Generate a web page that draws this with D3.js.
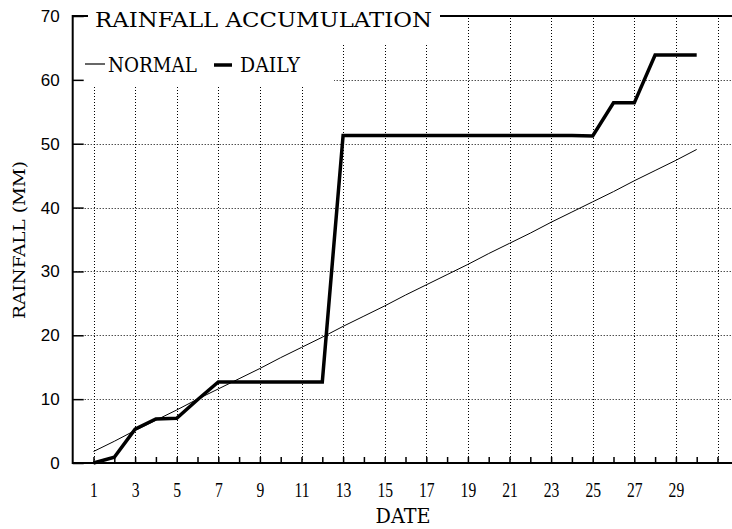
<!DOCTYPE html>
<html><head><meta charset="utf-8">
<script src="https://cdn.jsdelivr.net/npm/d3@7"></script>
<style>body{margin:0;background:#fff}svg{display:block}</style>
</head><body>
<svg id="c" width="732" height="529"></svg>
<script>
const days = [1,2,3,4,5,6,7,8,9,10,11,12,13,14,15,16,17,18,19,20,21,22,23,24,25,26,27,28,29,30];
const normalValues = [1.8,3.4,5.1,6.7,8.3,10.0,11.6,13.2,14.8,16.5,18.1,19.7,21.4,23.0,24.6,26.3,27.9,29.5,31.1,32.8,34.4,36.0,37.7,39.3,40.9,42.5,44.2,45.8,47.4,49.1];
const dailyValues = [0,0.9,5.3,6.9,7.0,9.9,12.7,12.7,12.7,12.7,12.7,12.7,51.3,51.3,51.3,51.3,51.3,51.3,51.3,51.3,51.3,51.3,51.3,51.3,51.2,56.4,56.4,63.9,63.9,63.9];
const yTickValues = [0,10,20,30,40,50,60,70];
const xTickDays = [1,2,3,4,5,6,7,8,9,10,11,12,13,14,15,16,17,18,19,20,21,22,23,24,25,26,27,28,29,30,31];
const xLabelDays = [1,3,5,7,9,11,13,15,17,19,21,23,25,27,29];
const gridDays = [1,3,5,7,9,11,13,15,17,19,21,23,25,27,29,31];
const gridValues = [10,20,30,40,50,60];
const titleText = "RAINFALL ACCUMULATION";
const legendNames = ["NORMAL","DAILY"];

const svg = d3.select("#c");
const x = d3.scaleLinear().domain([0,32]).range([72.7,738.3]);
const y = d3.scaleLinear().domain([0,70]).range([463,16]);
const serif = "'DejaVu Serif', serif";

// grid
const g = svg.append("g");
g.selectAll("line.v").data(gridDays).join("line")
  .attr("x1",d=>Math.round(x(d))+0.5).attr("x2",d=>Math.round(x(d))+0.5)
  .attr("y1",y(0)).attr("y2",y(70))
  .attr("stroke","#000").attr("stroke-width",1).attr("stroke-dasharray","1,2");
g.selectAll("line.h").data(gridValues).join("line")
  .attr("x1",x(0)).attr("x2",732)
  .attr("y1",d=>Math.round(y(d))+0.5).attr("y2",d=>Math.round(y(d))+0.5)
  .attr("stroke","#000").attr("stroke-width",1).attr("stroke-dasharray","1,2");

// frame top line
svg.append("line").attr("x1",x(0)).attr("x2",732).attr("y1",y(70)).attr("y2",y(70))
  .attr("stroke","#000").attr("stroke-width",2);

// masks for title and legend
svg.append("rect").attr("x",88).attr("y",0).attr("width",352).attr("height",44).attr("fill","#fff");
svg.append("rect").attr("x",75).attr("y",44).attr("width",259).attr("height",43).attr("fill","#fff");

// title
svg.append("text").attr("x",95).attr("y",27).text(titleText)
  .attr("font-family",serif).attr("font-size",20)
  .attr("textLength",337).attr("lengthAdjust","spacingAndGlyphs");

// legend
const lg = svg.append("g");
lg.append("line").attr("x1",85).attr("x2",105).attr("y1",64).attr("y2",64).attr("stroke","#000").attr("stroke-width",1.2);
lg.append("text").attr("x",108).attr("y",72).text(legendNames[0])
  .attr("font-family",serif).attr("font-size",20).attr("textLength",89).attr("lengthAdjust","spacingAndGlyphs");
lg.append("line").attr("x1",214).attr("x2",232).attr("y1",65).attr("y2",65).attr("stroke","#000").attr("stroke-width",3.5);
lg.append("text").attr("x",240).attr("y",72).text(legendNames[1])
  .attr("font-family",serif).attr("font-size",20).attr("textLength",60).attr("lengthAdjust","spacingAndGlyphs");

// y axis
const ya = svg.append("g").attr("transform",`translate(${x(0)},0)`)
  .call(d3.axisLeft(y).tickValues(yTickValues).tickSize(-11).tickPadding(13).tickFormat(d3.format("d")));
ya.select(".domain").remove();
ya.selectAll(".tick line").attr("stroke","#000").attr("stroke-width",1.5);
ya.selectAll(".tick text").attr("font-family","'Liberation Sans', Arial, sans-serif").attr("font-size",17).attr("fill","#000");

// x axis
const xa = svg.append("g").attr("transform",`translate(0,${y(0)})`)
  .call(d3.axisBottom(x).tickValues(xTickDays).tickSize(-6).tickFormat(d=>xLabelDays.includes(d)?d:""));
xa.select(".domain").remove();
xa.selectAll(".tick line").attr("stroke","#000").attr("stroke-width",1.5);
xa.selectAll(".tick text").attr("font-family","'Liberation Serif', serif").attr("font-size",20).attr("fill","#000")
  .attr("y",34).attr("dy",0).attr("transform","scale(0.78,1)");

// axis lines
svg.append("line").attr("x1",x(0)).attr("x2",x(0)).attr("y1",y(70)-1).attr("y2",y(0)+1).attr("stroke","#000").attr("stroke-width",2);
svg.append("line").attr("x1",x(0)).attr("x2",732).attr("y1",y(0)).attr("y2",y(0)).attr("stroke","#000").attr("stroke-width",2);

// lines
const lineGen = d3.line().x((d,i)=>x(days[i])).y(d=>y(d));
svg.append("path").attr("d",lineGen(normalValues)).attr("fill","none").attr("stroke","#000").attr("stroke-width",1);
svg.append("path").attr("d",lineGen(dailyValues)).attr("fill","none").attr("stroke","#000").attr("stroke-width",3.5).attr("stroke-linejoin","miter");

// axis titles
svg.append("text").attr("x",403).attr("y",523).attr("text-anchor","middle").text("DATE")
  .attr("font-family",serif).attr("font-size",20).attr("textLength",55).attr("lengthAdjust","spacingAndGlyphs");
svg.append("text").attr("transform","translate(25,240) rotate(-90)").attr("text-anchor","middle").text("RAINFALL (MM)")
  .attr("font-family",serif).attr("font-size",17).attr("textLength",158).attr("lengthAdjust","spacingAndGlyphs");
</script>
</body></html>
